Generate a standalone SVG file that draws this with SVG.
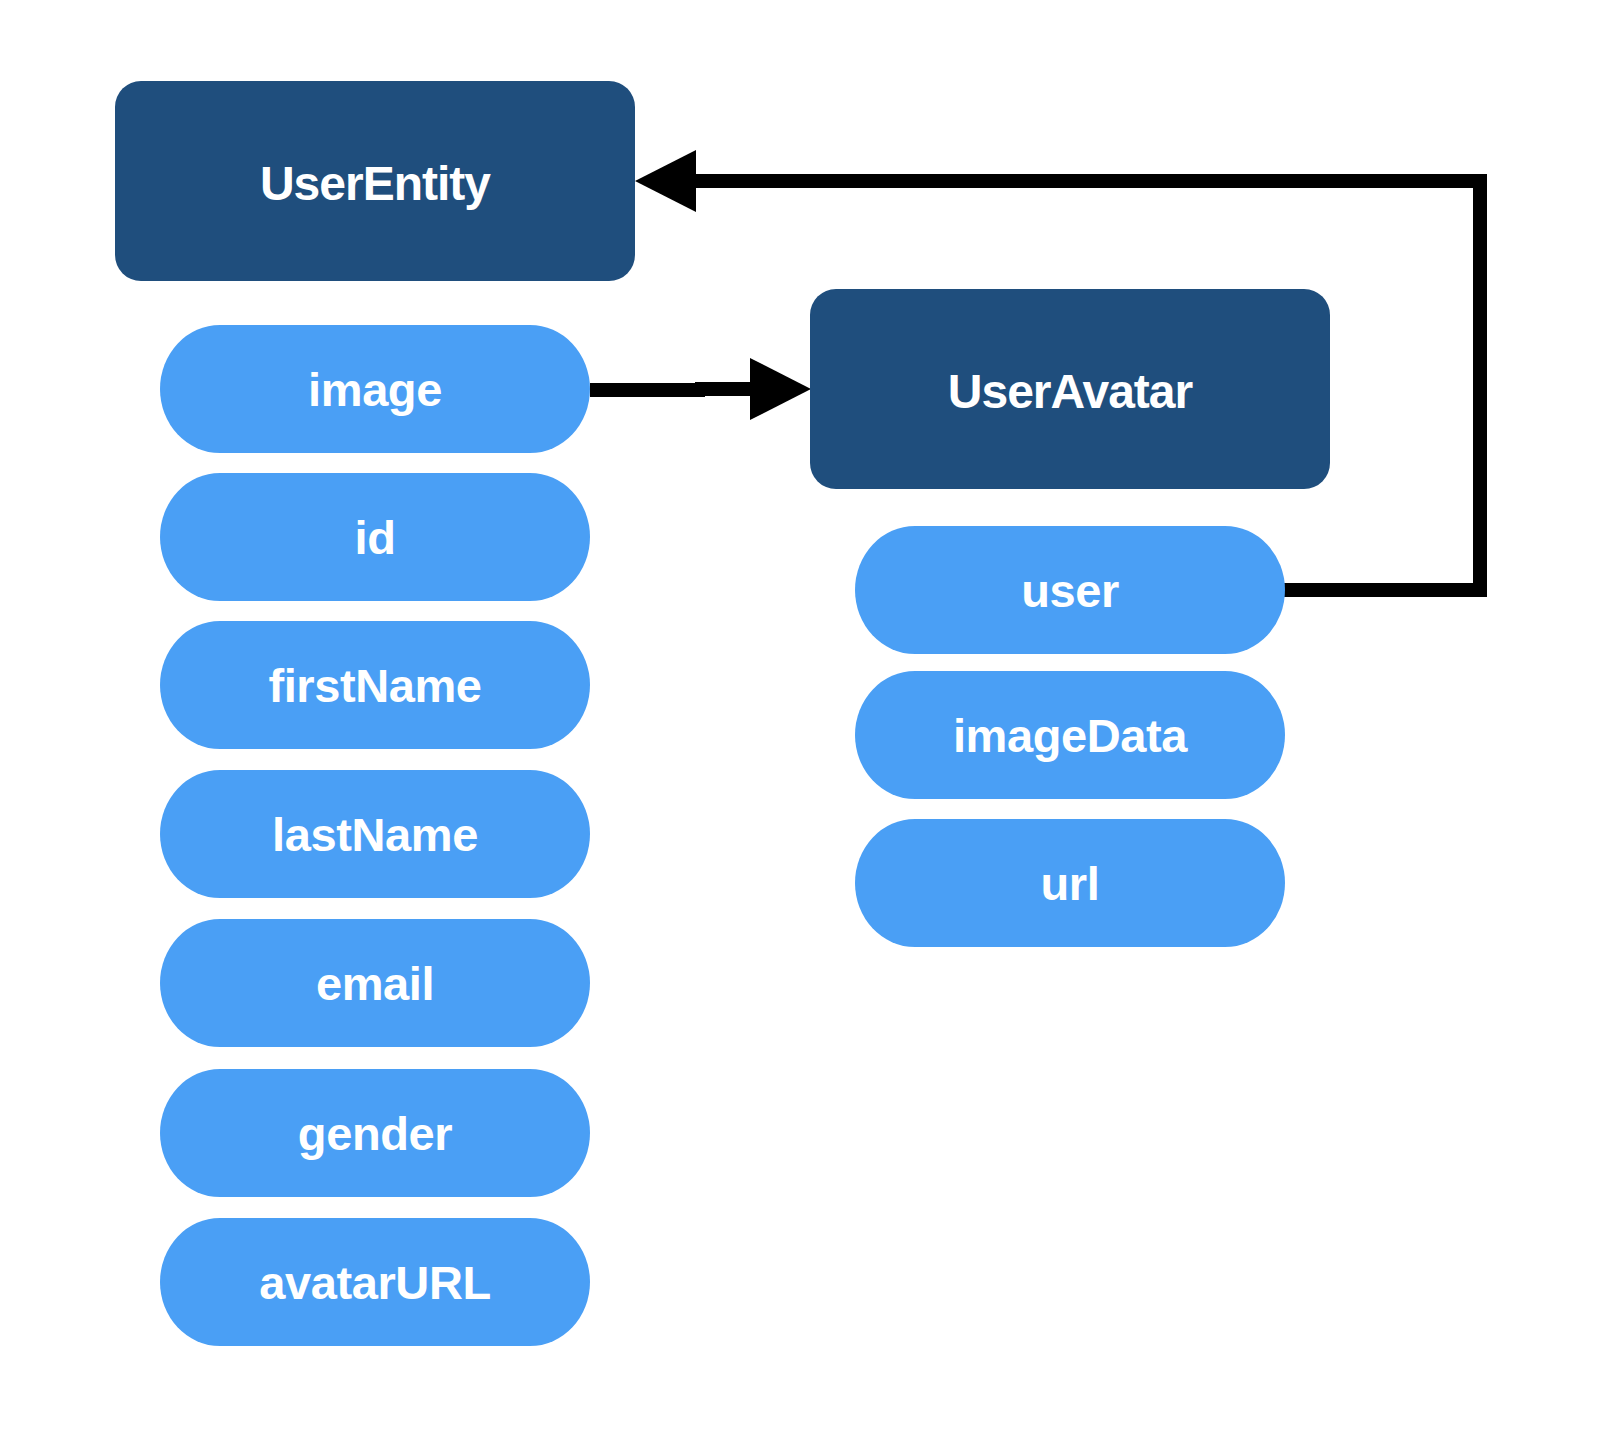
<svg xmlns="http://www.w3.org/2000/svg" width="1600" height="1440" viewBox="0 0 1600 1440">
<defs>
<style>
.entity{fill:#1F4E7D}
.attr{fill:#4A9FF5}
.hd{font-family:"Liberation Sans",Arial,sans-serif;font-weight:bold;font-size:48px;fill:#fff;text-anchor:middle;letter-spacing:-1px}
.lb{font-family:"Liberation Sans",Arial,sans-serif;font-weight:bold;font-size:47px;fill:#fff;text-anchor:middle;letter-spacing:-0.4px}
.conn{fill:none;stroke:#000;stroke-width:14;stroke-linejoin:miter}
</style>
<marker id="ah" markerUnits="userSpaceOnUse" markerWidth="62" markerHeight="62" refX="0" refY="31" orient="auto" overflow="visible">
<path d="M0,0 L61,31 L0,62 Z" fill="#000"/>
</marker>
</defs>
<rect width="1600" height="1440" fill="#fff"/>
<g id="connectors">
<path class="conn" d="M590 390 H705"/>
<path class="conn" d="M695 389 H750" marker-end="url(#ah)"/>
<path class="conn" d="M1284 590 H1480 V181 H696" marker-end="url(#ah)"/>
</g>
<g id="UserEntity">
<rect class="entity" x="115" y="81" width="520" height="200" rx="26" ry="26"/>
<text class="hd" x="375" y="200">UserEntity</text>
</g>
<g id="UserEntity-image">
<rect class="attr" x="160" y="325" width="430" height="128" rx="60" ry="64"/>
<text class="lb" x="375" y="406">image</text>
</g>
<g id="UserEntity-id">
<rect class="attr" x="160" y="473" width="430" height="128" rx="60" ry="64"/>
<text class="lb" x="375" y="554">id</text>
</g>
<g id="UserEntity-firstName">
<rect class="attr" x="160" y="621" width="430" height="128" rx="60" ry="64"/>
<text class="lb" x="375" y="702">firstName</text>
</g>
<g id="UserEntity-lastName">
<rect class="attr" x="160" y="770" width="430" height="128" rx="60" ry="64"/>
<text class="lb" x="375" y="851">lastName</text>
</g>
<g id="UserEntity-email">
<rect class="attr" x="160" y="919" width="430" height="128" rx="60" ry="64"/>
<text class="lb" x="375" y="1000">email</text>
</g>
<g id="UserEntity-gender">
<rect class="attr" x="160" y="1069" width="430" height="128" rx="60" ry="64"/>
<text class="lb" x="375" y="1150">gender</text>
</g>
<g id="UserEntity-avatarURL">
<rect class="attr" x="160" y="1218" width="430" height="128" rx="60" ry="64"/>
<text class="lb" x="375" y="1299">avatarURL</text>
</g>
<g id="UserAvatar">
<rect class="entity" x="810" y="289" width="520" height="200" rx="26" ry="26"/>
<text class="hd" x="1070" y="408">UserAvatar</text>
</g>
<g id="UserAvatar-user">
<rect class="attr" x="855" y="526" width="430" height="128" rx="60" ry="64"/>
<text class="lb" x="1070" y="607">user</text>
</g>
<g id="UserAvatar-imageData">
<rect class="attr" x="855" y="671" width="430" height="128" rx="60" ry="64"/>
<text class="lb" x="1070" y="752">imageData</text>
</g>
<g id="UserAvatar-url">
<rect class="attr" x="855" y="819" width="430" height="128" rx="60" ry="64"/>
<text class="lb" x="1070" y="900">url</text>
</g>
</svg>
